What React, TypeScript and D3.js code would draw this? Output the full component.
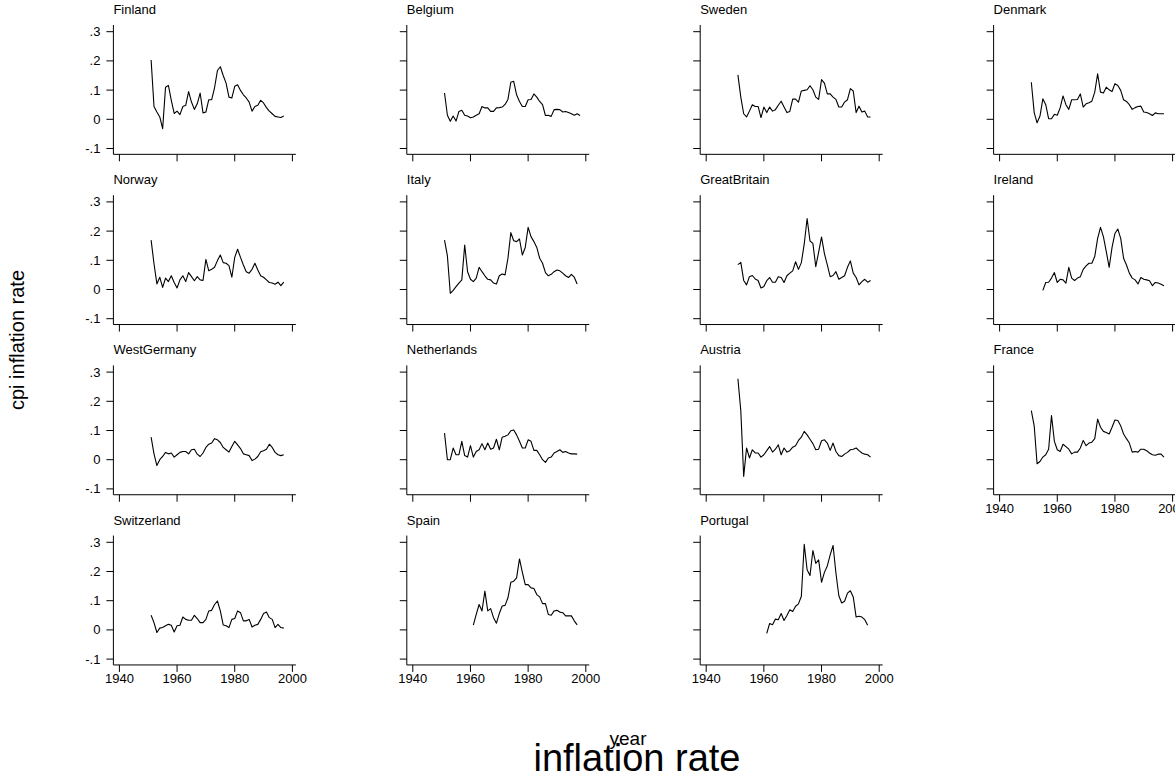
import React from 'react';
import * as d3 from 'd3';

const countries = ['Finland','Belgium','Sweden','Denmark','Norway','Italy','GreatBritain','Ireland','WestGermany','Netherlands','Austria','France','Switzerland','Spain','Portugal'];
const startYears = [1951,1951,1951,1951,1951,1951,1951,1955,1951,1951,1951,1951,1951,1961,1961];

const finland = [0.203,0.044,0.025,0.008,-0.032,0.11,0.116,0.065,0.02,0.028,0.016,0.044,0.048,0.095,0.059,0.034,0.053,0.09,0.022,0.025,0.067,0.067,0.108,0.167,0.18,0.15,0.124,0.076,0.073,0.113,0.118,0.099,0.084,0.073,0.059,0.028,0.044,0.048,0.065,0.056,0.04,0.028,0.019,0.01,0.008,0.006,0.011];
const belgium = [0.09,0.014,-0.007,0.011,-0.006,0.027,0.031,0.014,0.011,0.005,0.008,0.014,0.019,0.044,0.039,0.039,0.027,0.027,0.039,0.04,0.042,0.051,0.068,0.127,0.13,0.084,0.061,0.044,0.044,0.067,0.068,0.087,0.076,0.061,0.05,0.013,0.014,0.01,0.033,0.034,0.033,0.025,0.027,0.023,0.019,0.014,0.019,0.013];
const sweden = [0.152,0.076,0.019,0.008,0.028,0.05,0.044,0.044,0.006,0.042,0.023,0.042,0.028,0.033,0.048,0.062,0.042,0.023,0.027,0.069,0.069,0.059,0.097,0.099,0.101,0.115,0.101,0.076,0.068,0.136,0.124,0.087,0.087,0.076,0.068,0.042,0.042,0.059,0.067,0.105,0.097,0.023,0.045,0.025,0.028,0.008,0.008];
const denmark = [0.127,0.023,-0.012,0.011,0.07,0.05,0.002,0.002,0.017,0.014,0.039,0.08,0.05,0.034,0.067,0.067,0.068,0.087,0.042,0.053,0.057,0.062,0.093,0.156,0.093,0.09,0.11,0.101,0.095,0.122,0.116,0.099,0.067,0.061,0.05,0.034,0.04,0.044,0.045,0.025,0.023,0.019,0.013,0.022,0.019,0.019,0.019];
const norway = [0.169,0.088,0.019,0.042,0.007,0.039,0.027,0.047,0.024,0.005,0.033,0.047,0.027,0.058,0.044,0.03,0.044,0.033,0.031,0.103,0.064,0.069,0.076,0.099,0.118,0.092,0.09,0.082,0.042,0.11,0.138,0.11,0.084,0.061,0.056,0.069,0.09,0.067,0.047,0.042,0.033,0.024,0.022,0.018,0.025,0.013,0.025];
const italy = [0.169,0.115,-0.013,-0.003,0.01,0.022,0.033,0.152,0.061,0.035,0.027,0.039,0.076,0.061,0.047,0.035,0.033,0.022,0.019,0.047,0.053,0.05,0.107,0.195,0.167,0.164,0.173,0.118,0.144,0.213,0.181,0.164,0.144,0.107,0.09,0.058,0.047,0.052,0.061,0.067,0.064,0.056,0.047,0.041,0.052,0.042,0.019];
const greatBritain = [0.085,0.093,0.031,0.016,0.044,0.048,0.036,0.031,0.005,0.01,0.03,0.041,0.025,0.025,0.044,0.041,0.024,0.047,0.056,0.064,0.095,0.069,0.092,0.156,0.243,0.166,0.158,0.078,0.128,0.18,0.123,0.084,0.044,0.048,0.061,0.035,0.041,0.047,0.076,0.098,0.056,0.041,0.016,0.027,0.035,0.025,0.031];
const ireland = [-0.003,0.024,0.025,0.039,0.058,0.024,0.035,0.033,0.022,0.076,0.039,0.031,0.039,0.044,0.069,0.081,0.09,0.09,0.113,0.175,0.213,0.181,0.13,0.076,0.144,0.192,0.207,0.175,0.107,0.084,0.056,0.039,0.033,0.019,0.041,0.035,0.033,0.03,0.013,0.024,0.022,0.018,0.013];
const westGermany = [0.077,0.02,-0.02,0,0.011,0.025,0.02,0.023,0.009,0.017,0.025,0.028,0.028,0.02,0.034,0.036,0.019,0.011,0.023,0.042,0.053,0.057,0.072,0.068,0.059,0.042,0.034,0.026,0.045,0.063,0.051,0.038,0.02,0.017,0.014,-0.003,0.002,0.011,0.027,0.031,0.036,0.053,0.042,0.025,0.017,0.014,0.017];
const netherlands = [0.091,0.0,0.0,0.04,0.017,0.017,0.063,0.014,0.009,0.048,0.009,0.028,0.034,0.055,0.034,0.057,0.036,0.04,0.07,0.034,0.077,0.08,0.085,0.099,0.102,0.085,0.063,0.04,0.04,0.068,0.063,0.032,0.032,0.017,0.0,-0.009,0.006,0.009,0.023,0.028,0.034,0.025,0.028,0.023,0.02,0.02,0.019];
const austria = [0.277,0.168,-0.057,0.04,0.006,0.034,0.023,0.023,0.009,0.017,0.031,0.045,0.026,0.036,0.051,0.017,0.04,0.026,0.031,0.043,0.048,0.066,0.077,0.097,0.085,0.07,0.055,0.034,0.036,0.065,0.068,0.057,0.032,0.057,0.028,0.014,0.011,0.019,0.025,0.034,0.036,0.04,0.031,0.023,0.019,0.017,0.009];
const france = [0.168,0.116,-0.014,-0.006,0.009,0.017,0.036,0.151,0.063,0.034,0.028,0.053,0.045,0.036,0.02,0.026,0.026,0.04,0.066,0.048,0.057,0.06,0.072,0.139,0.111,0.097,0.093,0.088,0.111,0.136,0.134,0.116,0.088,0.072,0.057,0.026,0.028,0.026,0.036,0.036,0.031,0.023,0.017,0.015,0.019,0.019,0.009];
const switzerland = [0.05,0.025,-0.009,0.006,0.008,0.014,0.019,0.016,-0.007,0.014,0.016,0.044,0.036,0.033,0.033,0.05,0.039,0.025,0.025,0.036,0.065,0.067,0.087,0.099,0.065,0.017,0.014,0.008,0.036,0.039,0.065,0.059,0.031,0.031,0.036,0.01,0.016,0.019,0.036,0.056,0.061,0.042,0.036,0.008,0.019,0.008,0.006];
const spain = [0.016,0.053,0.087,0.065,0.133,0.065,0.073,0.042,0.023,0.056,0.082,0.084,0.11,0.163,0.167,0.178,0.243,0.197,0.155,0.155,0.144,0.142,0.121,0.113,0.09,0.09,0.053,0.05,0.065,0.067,0.061,0.059,0.048,0.048,0.048,0.031,0.017];
const portugal = [-0.012,0.022,0.018,0.037,0.035,0.056,0.032,0.049,0.069,0.063,0.081,0.089,0.115,0.293,0.206,0.186,0.272,0.228,0.24,0.163,0.197,0.219,0.257,0.289,0.194,0.117,0.092,0.098,0.126,0.134,0.113,0.044,0.047,0.044,0.035,0.016];

const seriesList = [finland,belgium,sweden,denmark,norway,italy,greatBritain,ireland,westGermany,netherlands,austria,france,switzerland,spain,portugal];

const xTicks = [1940, 1960, 1980, 2000];
const yTicks = [-0.1, 0, 0.1, 0.2, 0.3];
const yTickLabels = ['-.1', '0', '.1', '.2', '.3'];

const FONT = 'Liberation Sans, Arial, Helvetica, sans-serif';

export default function App() {
  const W = 1175, H = 774;
  const nCols = 4;
  const colX0 = 113.4, colStep = 293.4;
  const rowTop0 = 31.7, rowStep = 170.2;
  const pxPerUnitY = 292;
  const xSpan = 173;

  const panels = countries.map((name, i) => {
    const col = i % nCols;
    const row = Math.floor(i / nCols);
    const ax = colX0 + col * colStep;
    const top = rowTop0 + row * rowStep;
    const x = d3.scaleLinear().domain([1940, 2000]).range([ax + 6, ax + 6 + xSpan]);
    const y = d3.scaleLinear().domain([-0.1, 0.3]).range([top + 0.4 * pxPerUnitY, top]);
    const data = seriesList[i].map((v, k) => ({ year: startYears[i] + k, v }));
    const line = d3.line<{ year: number; v: number }>().x(d => x(d.year)).y(d => y(d.v));
    const showX = row === 3 || (row === 2 && col === 3);
    const showY = col === 0;
    return { name, ax, top, x, y, d: line(data) || '', showX, showY };
  });

  return (
    <svg width={W} height={H} style={{ position: 'absolute', left: 0, top: 0, background: '#fff' }} fontFamily={FONT}>
      <rect x={0} y={0} width={W} height={H} fill="#fff" />
      {panels.map(p => {
        const axisY = p.y(-0.12);
        const axisTop = p.y(0.323);
        const axisRight = p.x(2001.2);
        return (
          <g key={p.name}>
            <text x={p.ax} y={p.top - 17.7} fontSize={13} fill="#000">{p.name}</text>
            <line x1={p.ax} x2={p.ax} y1={axisTop} y2={axisY} stroke="#000" strokeWidth={1} />
            <line x1={p.ax} x2={axisRight} y1={axisY} y2={axisY} stroke="#000" strokeWidth={1} />
            {yTicks.map((t, k) => (
              <g key={'y' + k}>
                <line x1={p.ax - 7} x2={p.ax} y1={p.y(t)} y2={p.y(t)} stroke="#000" strokeWidth={1} />
                {p.showY && (
                  <text x={p.ax - 13} y={p.y(t)} dy="0.35em" textAnchor="end" fontSize={13} fill="#000">{yTickLabels[k]}</text>
                )}
              </g>
            ))}
            {xTicks.map(t => (
              <g key={'x' + t}>
                <line x1={p.x(t)} x2={p.x(t)} y1={axisY} y2={axisY + 7} stroke="#000" strokeWidth={1} />
                {p.showX && (
                  <text x={p.x(t)} y={axisY + 18.5} textAnchor="middle" fontSize={13} fill="#000">{t}</text>
                )}
              </g>
            ))}
            <path d={p.d} fill="none" stroke="#000" strokeWidth={1.1} strokeLinejoin="round" />
          </g>
        );
      })}
      <text transform="translate(24,340) rotate(-90)" textAnchor="middle" fontSize={20} fill="#000">cpi inflation rate</text>
      <text x={628} y={745} textAnchor="middle" fontSize={19} fill="#000">year</text>
      <text x={637} y={771} textAnchor="middle" fontSize={38} fill="#000">inflation rate</text>
    </svg>
  );
}
